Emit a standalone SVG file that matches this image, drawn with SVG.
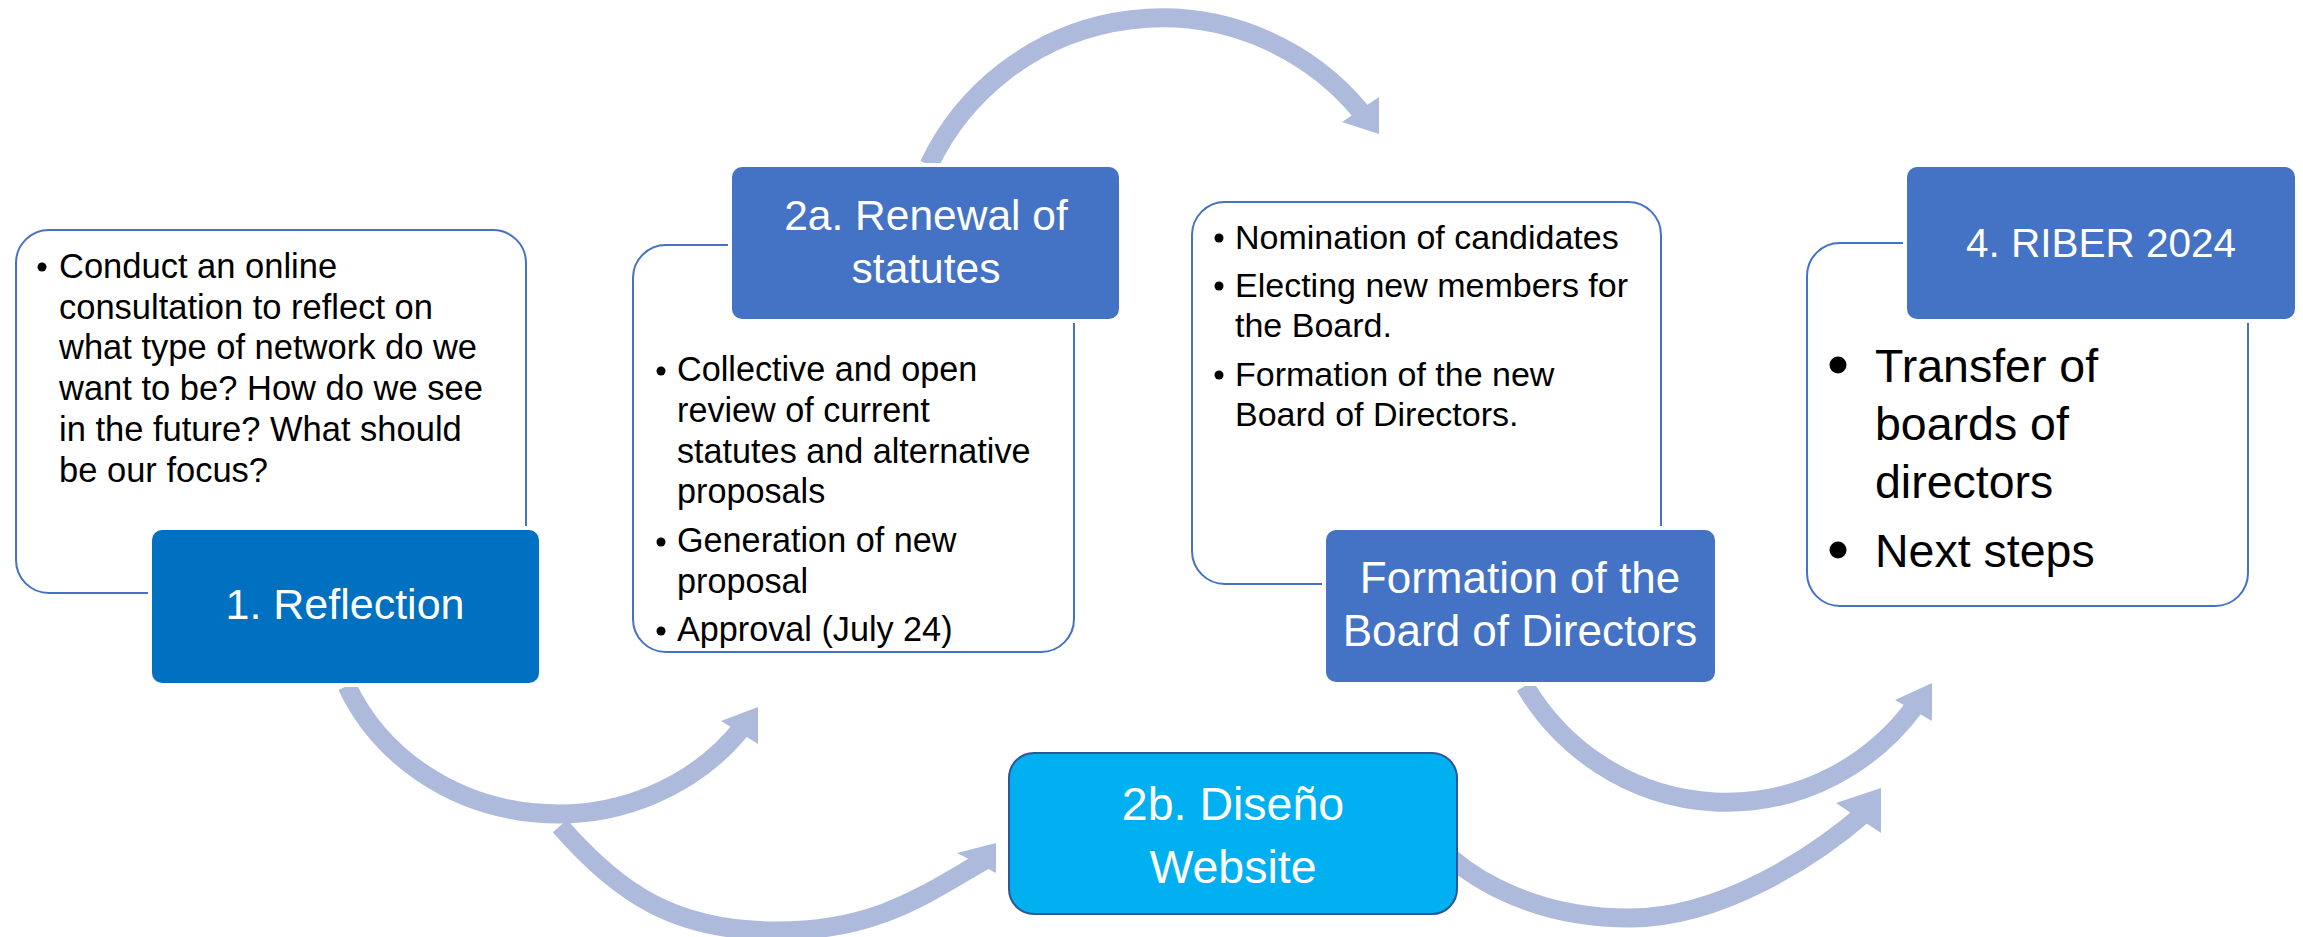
<svg xmlns="http://www.w3.org/2000/svg" width="2303" height="937" viewBox="0 0 2303 937">
<defs>
<style>
.card{fill:#FFFFFF;stroke:#4472C4;stroke-width:2}
.gap{fill:#FFFFFF}
.hdr{fill:#4472C4}
.arc{fill:none;stroke:#AEBADC;stroke-width:19}
.head{fill:#AEBADC}
.body{font-family:"Liberation Sans",Arial,sans-serif;fill:#000000}
.title{font-family:"Liberation Sans",Arial,sans-serif;fill:#FFFFFF;text-anchor:middle}
.dot{fill:#000000}
</style>
</defs>
<rect width="2303" height="937" fill="#FFFFFF"/>
<g id="connectors">
<path class="arc" d="M347,686 A230,214 0 0 0 745,724"/>
<polygon class="head" points="758,707 721,721 758,744"/>
<path class="arc" d="M560,826 C619,894 676,931 776,931 C876,931 924,895 985,860"/>
<polygon class="head" points="996,843 957,853 996,873"/>
<path class="arc" d="M929,165 A258,258 0 0 1 1362,113"/>
<polygon class="head" points="1379,97 1342,122 1379,134"/>
<path class="arc" d="M1525,686 A236,242 0 0 0 1915,706"/>
<polygon class="head" points="1932,683 1895,700 1932,721"/>
<path class="arc" d="M1400,790 C1440,880 1540,918 1630,918 C1720,918 1813,858 1866,812"/>
<polygon class="head" points="1881,788 1836,803 1881,833"/>
</g>
<g id="node-1">
<rect class="card" x="16" y="230" width="510" height="363" rx="33"/>
<circle class="dot" cx="42" cy="267" r="4.5"/>
<text class="body" font-size="34.5">
<tspan x="59" y="278">Conduct an online</tspan>
<tspan x="59" y="319">consultation to reflect on</tspan>
<tspan x="59" y="359">what type of network do we</tspan>
<tspan x="59" y="400">want to be? How do we see</tspan>
<tspan x="59" y="441">in the future? What should</tspan>
<tspan x="59" y="482">be our focus?</tspan>
</text>
<rect class="gap" x="148" y="526" width="395" height="161" rx="13"/>
<rect x="152" y="530" width="387" height="153" rx="10" fill="#0070C0"/>
<text class="title" font-size="43" x="345" y="619">1. Reflection</text>
</g>
<g id="node-2a">
<rect class="card" x="633" y="245" width="441" height="407" rx="33"/>
<circle class="dot" cx="661" cy="371" r="4.5"/>
<circle class="dot" cx="661" cy="542" r="4.5"/>
<circle class="dot" cx="661" cy="631" r="4.5"/>
<text class="body" font-size="34.2">
<tspan x="677" y="381">Collective and open</tspan>
<tspan x="677" y="422">review of current</tspan>
<tspan x="677" y="463">statutes and alternative</tspan>
<tspan x="677" y="503">proposals</tspan>
<tspan x="677" y="552">Generation of new</tspan>
<tspan x="677" y="593">proposal</tspan>
<tspan x="677" y="641">Approval (July 24)</tspan>
</text>
<rect class="gap" x="728" y="163" width="395" height="160" rx="13"/>
<rect class="hdr" x="732" y="167" width="387" height="152" rx="10"/>
<text class="title" font-size="42.5"><tspan x="926" y="230">2a. Renewal of</tspan><tspan x="926" y="283">statutes</tspan></text>
</g>
<g id="node-2b">
<rect x="1009" y="753" width="448" height="161" rx="25" fill="#00B0F0" stroke="#2F5597" stroke-width="2"/>
<text class="title" font-size="46.5"><tspan x="1233" y="820">2b. Diseño</tspan><tspan x="1233" y="883">Website</tspan></text>
</g>
<g id="node-3">
<rect class="card" x="1192" y="202" width="469" height="382" rx="33"/>
<circle class="dot" cx="1219" cy="238" r="4.5"/>
<circle class="dot" cx="1219" cy="286" r="4.5"/>
<circle class="dot" cx="1219" cy="375" r="4.5"/>
<text class="body" font-size="34">
<tspan x="1235" y="249">Nomination of candidates</tspan>
<tspan x="1235" y="297">Electing new members for</tspan>
<tspan x="1235" y="337">the Board.</tspan>
<tspan x="1235" y="386">Formation of the new</tspan>
<tspan x="1235" y="426">Board of Directors.</tspan>
</text>
<rect class="gap" x="1322" y="526" width="397" height="160" rx="13"/>
<rect class="hdr" x="1326" y="530" width="389" height="152" rx="10"/>
<text class="title" font-size="44"><tspan x="1520" y="593">Formation of the</tspan><tspan x="1520" y="646">Board of Directors</tspan></text>
</g>
<g id="node-4">
<rect class="card" x="1807" y="243" width="441" height="363" rx="33"/>
<circle class="dot" cx="1838" cy="365" r="8.5"/>
<circle class="dot" cx="1838" cy="550" r="8.5"/>
<text class="body" font-size="46.5">
<tspan x="1875" y="382">Transfer of</tspan>
<tspan x="1875" y="440">boards of</tspan>
<tspan x="1875" y="498">directors</tspan>
<tspan x="1875" y="567">Next steps</tspan>
</text>
<rect class="gap" x="1903" y="163" width="396" height="160" rx="13"/>
<rect class="hdr" x="1907" y="167" width="388" height="152" rx="10"/>
<text class="title" font-size="40.5" x="2101" y="257">4. RIBER 2024</text>
</g>
</svg>
